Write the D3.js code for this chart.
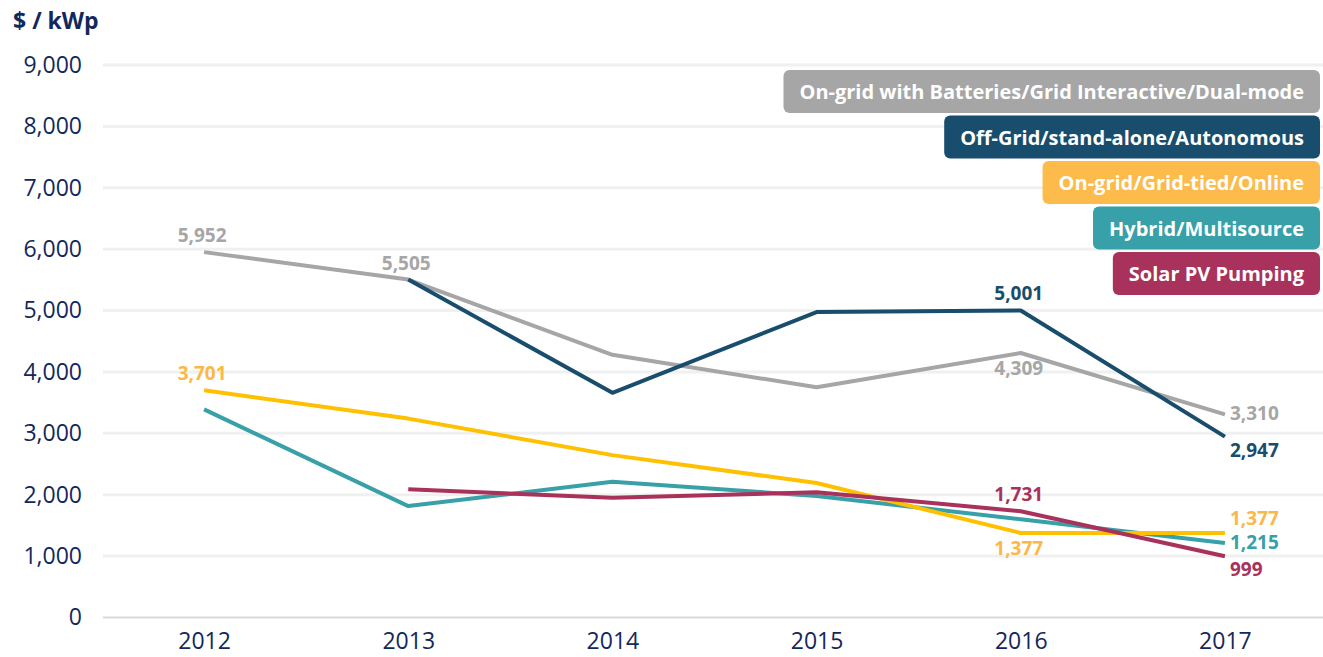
<!DOCTYPE html>
<html>
<head>
<meta charset="utf-8">
<script src="https://cdn.jsdelivr.net/npm/d3@7"></script>
<style>
  body { margin: 0; background: #fff; }
  text { font-family: "Open Sans", sans-serif; }
</style>
</head>
<body>
<div id="container"></div>
<script>
// chart data
const years = ["2012", "2013", "2014", "2015", "2016", "2017"];
const yTicks = [0, 1000, 2000, 3000, 4000, 5000, 6000, 7000, 8000, 9000];

const batteries = [5952, 5505, 4280, 3750, 4309, 3310];
const offGrid = [null, 5505, 3660, 4975, 5001, 2947];
const onGrid = [3701, 3240, 2645, 2190, 1377, 1377];
const hybrid = [3390, 1815, 2210, 1980, 1600, 1215];
const pumping = [null, 2090, 1950, 2040, 1731, 999];

const seriesNames = [
    "On-grid with Batteries/Grid Interactive/Dual-mode",
    "Off-Grid/stand-alone/Autonomous",
    "On-grid/Grid-tied/Online",
    "Hybrid/Multisource",
    "Solar PV Pumping"
];

// which points carry a value label, and where it sits
const valueLabels = [
    { s: 0, i: 0, pos: "above" }, { s: 0, i: 1, pos: "above" },
    { s: 0, i: 4, pos: "below" }, { s: 0, i: 5, pos: "right" },
    { s: 1, i: 4, pos: "above" }, { s: 1, i: 5, pos: "belowright" },
    { s: 2, i: 0, pos: "above" }, { s: 2, i: 4, pos: "below" }, { s: 2, i: 5, pos: "rightup" },
    { s: 3, i: 5, pos: "right" },
    { s: 4, i: 4, pos: "above" }, { s: 4, i: 5, pos: "belowright" }
];

const lineColors = ["#a6a6a6", "#184d6d", "#ffc000", "#38a0a8", "#a8325b"];
const labelColors = ["#a6a6a6", "#184d6d", "#fbb846", "#38a0a8", "#a8325b"];
const boxColors = ["#a6a6a6", "#184d6d", "#fcbb4a", "#38a0a8", "#a8325b"];
const navy = "#12285c";

const series = [batteries, offGrid, onGrid, hybrid, pumping];

const W = 1323, H = 657;

const svg = d3.select("#container")
    .append("svg")
    .attr("width", W)
    .attr("height", H);

const xScale = d3.scalePoint()
    .domain(years)
    .range([102, 1327])
    .padding(0.5);

const yScale = d3.scaleLinear()
    .domain([0, 9000])
    .range([617.5, 65]);

// gridlines
svg.append("g")
    .selectAll("line")
    .data(yTicks)
    .enter()
    .append("line")
    .attr("x1", 103)
    .attr("x2", 1323)
    .attr("y1", d => yScale(d))
    .attr("y2", d => yScale(d))
    .attr("stroke", d => d === 0 ? "#d9d9d9" : "#f0f0f0")
    .attr("stroke-width", d => d === 0 ? 2 : 3);

// y axis labels
const yAxis = svg.append("g")
    .attr("transform", "translate(82,0)")
    .call(d3.axisLeft(yScale).tickValues(yTicks).tickFormat(d3.format(",")).tickSize(0).tickPadding(0));
yAxis.select(".domain").remove();
yAxis.selectAll("text")
    .attr("fill", navy)
    .style("font-size", "23px")
    .style("font-family", "Open Sans");

// x axis labels
const xAxis = svg.append("g")
    .attr("transform", "translate(0,633)")
    .call(d3.axisBottom(xScale).tickSize(0).tickPadding(0));
xAxis.select(".domain").remove();
xAxis.selectAll("text")
    .attr("fill", navy)
    .style("font-size", "23px")
    .style("font-family", "Open Sans");

// unit title
svg.append("text")
    .attr("x", 13)
    .attr("y", 29)
    .attr("fill", navy)
    .style("font-size", "23px")
    .style("font-weight", "bold")
    .text("$ / kWp");

// lines
const line = d3.line()
    .defined(d => d != null)
    .x((d, i) => xScale(years[i]))
    .y(d => yScale(d));

const drawOrder = [0, 1, 3, 2, 4];
svg.append("g")
    .selectAll("path")
    .data(drawOrder)
    .enter()
    .append("path")
    .attr("fill", "none")
    .attr("stroke", s => lineColors[s])
    .attr("stroke-width", 4)
    .attr("stroke-linejoin", "round")
    .attr("d", s => line(series[s]));

// value labels
const fmt = d3.format(",");
svg.append("g")
    .selectAll("text")
    .data(valueLabels)
    .enter()
    .append("text")
    .attr("fill", d => labelColors[d.s])
    .style("font-size", "19px")
    .style("font-weight", "bold")
    .attr("text-anchor", d => d.pos.startsWith("right") || d.pos === "belowright" ? "start" : "middle")
    .attr("x", d => {
        const x = xScale(years[d.i]);
        if (d.pos === "above" || d.pos === "below") return x - 2;
        return x + 5;
    })
    .attr("y", d => {
        const y = yScale(series[d.s][d.i]);
        if (d.pos === "above") return y - 10;
        if (d.pos === "below") return y + 22;
        if (d.pos === "belowright") return y + 20;
        if (d.pos === "rightup") return y - 8;
        return y + 6;
    })
    .text(d => fmt(series[d.s][d.i]));

// legend boxes, right aligned
const legend = svg.append("g");
const boxRight = 1320, boxTop = 70, boxH = 43, boxStep = 45.5;
seriesNames.forEach((name, k) => {
    const g = legend.append("g");
    const rect = g.append("rect");
    const t = g.append("text")
        .attr("x", boxRight - 16)
        .attr("y", boxTop + k * boxStep + 29)
        .attr("text-anchor", "end")
        .attr("fill", "#fff")
        .style("font-size", "20px")
        .style("font-weight", "bold")
        .text(name);
    const tw = t.node().getComputedTextLength();
    rect.attr("x", boxRight - tw - 32)
        .attr("y", boxTop + k * boxStep)
        .attr("width", tw + 32)
        .attr("height", boxH)
        .attr("rx", 6)
        .attr("fill", boxColors[k]);
});
</script>
</body>
</html>
